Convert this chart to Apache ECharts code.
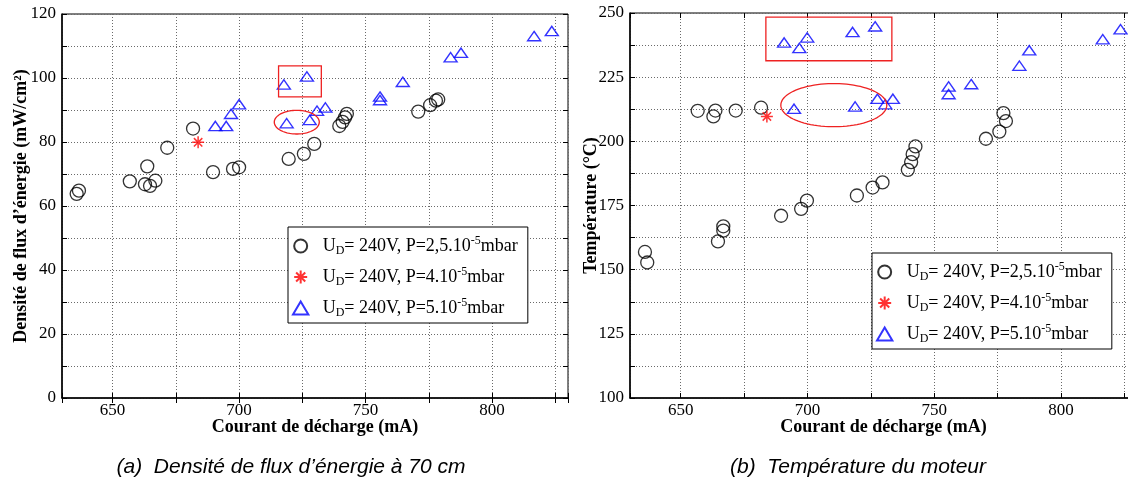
<!DOCTYPE html>
<html><head><meta charset="utf-8">
<script src="https://cdn.jsdelivr.net/npm/echarts@6/dist/echarts.min.js"></script>
<style>html,body{margin:0;padding:0;background:#fff}#c{width:1128px;height:485px}</style>
</head><body><div id="c"></div>
<script>
// ---------- data ----------
const seriesNames = ['P25', 'P40', 'P50'];
const legendTexts = {
  P25: ['U', 'D', '= 240V, P=2,5.10', '-5', 'mbar'],
  P40: ['U', 'D', '= 240V, P=4.10', '-5', 'mbar'],
  P50: ['U', 'D', '= 240V, P=5.10', '-5', 'mbar']
};
const xTicks = [650, 700, 750, 800];

// (a) energy flux density (mW/cm2) vs discharge current (mA)
const fluxP25X = [635.8, 636.7, 656.8, 663.7, 662.8, 664.8, 666.9, 671.6, 681.8, 689.7, 697.6, 700.0, 719.6, 725.6, 729.7, 739.6, 740.9, 741.9, 742.6, 770.8, 775.5, 777.8, 778.7];
const fluxP25Y = [63.8, 64.8, 67.7, 72.4, 66.8, 66.3, 67.9, 78.2, 84.2, 70.6, 71.6, 72.1, 74.7, 76.3, 79.4, 85.0, 86.3, 87.7, 88.8, 89.5, 91.5, 92.9, 93.3];
const fluxP40X = [683.8];
const fluxP40Y = [79.9];
const fluxP50X = [690.6, 694.9, 696.8, 700.0, 717.7, 726.8, 718.8, 727.9, 730.8, 734.1, 755.7, 755.7, 764.7, 783.6, 787.7, 816.6, 823.6];
const fluxP50Y = [85.0, 85.0, 88.8, 91.8, 98.0, 100.5, 85.9, 86.9, 89.8, 90.8, 94.2, 93.1, 98.8, 106.5, 107.9, 113.1, 114.7];
const fluxBox = [715.6, 103.8, 732.5, 94.1];      // x1, y1, x2, y2
const fluxEllipse = [722.8, 86.2, 8.9, 3.7];      // cx, cy, rx, ry

// (b) motor temperature (°C) vs discharge current (mA)
const tempP25X = [635.9, 636.8, 656.7, 662.9, 663.7, 664.7, 666.8, 666.8, 671.7, 681.7, 689.6, 697.5, 699.8, 719.5, 725.7, 729.6, 739.6, 740.9, 741.5, 742.6, 770.4, 775.7, 778.3, 777.3];
const tempP25Y = [156.9, 152.8, 211.9, 209.7, 212.0, 161.0, 166.9, 165.2, 212.0, 213.1, 171.0, 173.7, 176.9, 178.9, 182.0, 184.0, 188.9, 191.9, 195.0, 198.0, 201.0, 203.8, 207.9, 211.0];
const tempP40X = [684.0];
const tempP40Y = [209.7];
const tempP50X = [690.8, 696.8, 699.9, 717.8, 726.7, 694.7, 718.8, 727.6, 730.7, 733.7, 755.7, 755.7, 764.6, 783.6, 787.5, 816.5, 823.5];
const tempP50Y = [238.5, 236.4, 240.5, 242.6, 244.8, 212.7, 213.6, 216.6, 214.5, 216.6, 221.4, 218.4, 222.3, 229.5, 235.5, 239.8, 243.7];
const tempBox = [683.6, 248.4, 733.3, 231.4];
const tempEllipse = [710.4, 214.1, 20.9, 8.4];

// ---------- helpers ----------
const zip = (xs, ys) => xs.map((x, i) => [x, ys[i]]);
const SERIF = '"Liberation Serif", "DejaVu Serif", serif';
const SANS = '"Liberation Sans", Arial, sans-serif';
const starPath = 'path://M0,-10L0,10M-10,0L10,0M-7,-7L7,7M-7,7L7,-7';
const triPath = 'path://M6.5,0L13,11L0,11Z';
const gridLine = {show: true, lineStyle: {color: '#6a6a6a', width: 1, type: [1, 2]}};

const styles = {
  P25: {symbol: 'circle', symbolSize: 13, itemStyle: {color: 'rgba(0,0,0,0)', borderColor: '#000', borderWidth: 1.3}},
  P40: {symbol: starPath, symbolSize: 12, itemStyle: {color: 'rgba(0,0,0,0)', borderColor: '#ff0000', borderWidth: 1.5}},
  P50: {symbol: triPath, symbolSize: [13, 11], symbolKeepAspect: true, itemStyle: {color: 'rgba(0,0,0,0)', borderColor: '#0000ff', borderWidth: 1.4}}
};

function scatter(name, data, gi) {
  return Object.assign({
    type: 'scatter', name: name, data: data,
    xAxisIndex: gi * 2, yAxisIndex: gi * 2,
    emphasis: {disabled: true}, z: 3
  }, styles[name]);
}

function boxSeries(box, gi) {
  return {
    type: 'custom', xAxisIndex: gi * 2, yAxisIndex: gi * 2, data: [box], z: 4, silent: true,
    renderItem: function (params, api) {
      const a = api.coord([api.value(0), api.value(1)]);
      const b = api.coord([api.value(2), api.value(3)]);
      return {type: 'rect', shape: {x: Math.min(a[0], b[0]), y: Math.min(a[1], b[1]), width: Math.abs(b[0] - a[0]), height: Math.abs(b[1] - a[1])},
        style: {fill: 'none', stroke: '#ee2222', lineWidth: 1.3}};
    }
  };
}
function ellipseSeries(el, gi) {
  return {
    type: 'custom', xAxisIndex: gi * 2, yAxisIndex: gi * 2, data: [el], z: 4, silent: true,
    renderItem: function (params, api) {
      const cx = api.value(0), cy = api.value(1);
      const c = api.coord([cx, cy]);
      const e = api.coord([cx + api.value(2), cy + api.value(3)]);
      const rx = Math.abs(e[0] - c[0]), ry = Math.abs(c[1] - e[1]);
      const pts = [];
      for (let k = 0; k < 90; k++) {
        const t = k / 90 * Math.PI * 2;
        pts.push([c[0] + rx * Math.cos(t), c[1] + ry * Math.sin(t)]);
      }
      return {type: 'polygon', shape: {points: pts}, style: {fill: 'none', stroke: '#ee2222', lineWidth: 1.3}};
    }
  };
}

function xAxes(gi, name) {
  return [{
    type: 'value', gridIndex: gi, min: 630, max: 830, minInterval: 25, maxInterval: 25,
    position: 'bottom', name: name, nameLocation: 'middle', nameGap: 20, nameMoveOverlap: false,
    nameTextStyle: {fontFamily: SERIF, fontWeight: 'bold', fontSize: 18, color: '#000'},
    axisLine: {onZero: false, lineStyle: {color: '#000', width: 1.5}},
    axisTick: {inside: true, length: 5, lineStyle: {color: '#000'}},
    axisLabel: {fontFamily: SERIF, fontSize: 17, color: '#000', margin: 4,
      formatter: v => (xTicks.indexOf(v) >= 0 ? String(v) : '')},
    splitLine: gridLine
  }, {
    type: 'value', gridIndex: gi, min: 630, max: 830, minInterval: 25, maxInterval: 25,
    position: 'top', axisLine: {show: false},
    axisTick: {inside: true, length: 5, lineStyle: {color: '#000'}},
    axisLabel: {show: false}, splitLine: {show: false}
  }];
}
function yAxes(gi, min, max, step, labelStep, name, gap) {
  return [{
    type: 'value', gridIndex: gi, min: min, max: max, interval: step, position: 'left',
    name: name, nameLocation: 'middle', nameGap: gap, nameRotate: 90, nameMoveOverlap: false,
    nameTextStyle: {fontFamily: SERIF, fontWeight: 'bold', fontSize: 18, color: '#000'},
    axisLine: {onZero: false, lineStyle: {color: '#000', width: 1.5}},
    axisTick: {inside: true, length: 5, lineStyle: {color: '#000'}},
    axisLabel: {fontFamily: SERIF, fontSize: 17, color: '#000', margin: 6,
      formatter: v => (Math.abs(v / labelStep - Math.round(v / labelStep)) < 1e-6 ? String(v) : '')},
    splitLine: gridLine
  }, {
    type: 'value', gridIndex: gi, min: min, max: max, interval: step, position: 'right',
    axisLine: {show: false},
    axisTick: {inside: true, length: 5, lineStyle: {color: '#000'}},
    axisLabel: {show: false}, splitLine: {show: false}
  }];
}

const rich = {
  f: {fontFamily: SERIF, fontSize: 18, color: '#000', lineHeight: 22, verticalAlign: 'middle', padding: [0, 0, 0, 5]},
  n: {fontFamily: SERIF, fontSize: 18, color: '#000', lineHeight: 22, verticalAlign: 'middle'},
  s: {fontFamily: SERIF, fontSize: 12, color: '#000', lineHeight: 22, verticalAlign: 'bottom'},
  p: {fontFamily: SERIF, fontSize: 12, color: '#000', lineHeight: 22, verticalAlign: 'top'}
};
function legendFmt(name) {
  const t = legendTexts[name];
  return '{f|' + t[0] + '}{s|' + t[1] + '}{n|' + t[2] + '}{p|' + t[3] + '}{n|' + t[4] + '}';
}
function legend(left, top) {
  return {
    data: seriesNames, orient: 'vertical', left: left, top: top, selectedMode: false,
    itemWidth: 24, itemHeight: 13, itemGap: 9, padding: [8, 10, 4, 4],
    borderColor: '#000', borderWidth: 1, backgroundColor: '#fff',
    formatter: legendFmt, textStyle: {rich: rich}, z: 10
  };
}

const chart = echarts.init(document.getElementById('c'), null, {renderer: 'canvas'});
chart.setOption({
  animation: false,
  backgroundColor: '#fff',
  grid: [
    {left: 62, top: 14, width: 506, height: 384, show: true, borderColor: '#000', borderWidth: 1, backgroundColor: 'transparent', outerBoundsMode: 'none', containLabel: false},
    {left: 630, top: 13, width: 507, height: 385, show: true, borderColor: '#000', borderWidth: 1, backgroundColor: 'transparent', outerBoundsMode: 'none', containLabel: false}
  ],
  xAxis: xAxes(0, 'Courant de décharge (mA)').concat(xAxes(1, 'Courant de décharge (mA)')),
  yAxis: yAxes(0, 0, 120, 10, 20, 'Densité de flux d\u2019énergie (mW/cm²)', 32)
    .concat(yAxes(1, 100, 250, 12.5, 25, 'Température (°C)', 30)),
  legend: [legend(288, 227), legend(872, 253)],
  tooltip: {show: false},
  series: [
    scatter('P25', zip(fluxP25X, fluxP25Y), 0),
    scatter('P40', zip(fluxP40X, fluxP40Y), 0),
    scatter('P50', zip(fluxP50X, fluxP50Y), 0),
    boxSeries(fluxBox, 0),
    ellipseSeries(fluxEllipse, 0),
    scatter('P25', zip(tempP25X, tempP25Y), 1),
    scatter('P40', zip(tempP40X, tempP40Y), 1),
    scatter('P50', zip(tempP50X, tempP50Y), 1),
    boxSeries(tempBox, 1),
    ellipseSeries(tempEllipse, 1)
  ],
  graphic: [
    {type: 'text', x: 291, y: 467, style: {text: '(a)  Densité de flux d\u2019énergie à 70 cm', font: 'italic 21px ' + SANS, fill: '#000', align: 'center', verticalAlign: 'middle', textAlign: 'center', textVerticalAlign: 'middle'}},
    {type: 'text', x: 858, y: 467, style: {text: '(b)  Température du moteur', font: 'italic 21px ' + SANS, fill: '#000', align: 'center', verticalAlign: 'middle', textAlign: 'center', textVerticalAlign: 'middle'}}
  ]
});
</script></body></html>
